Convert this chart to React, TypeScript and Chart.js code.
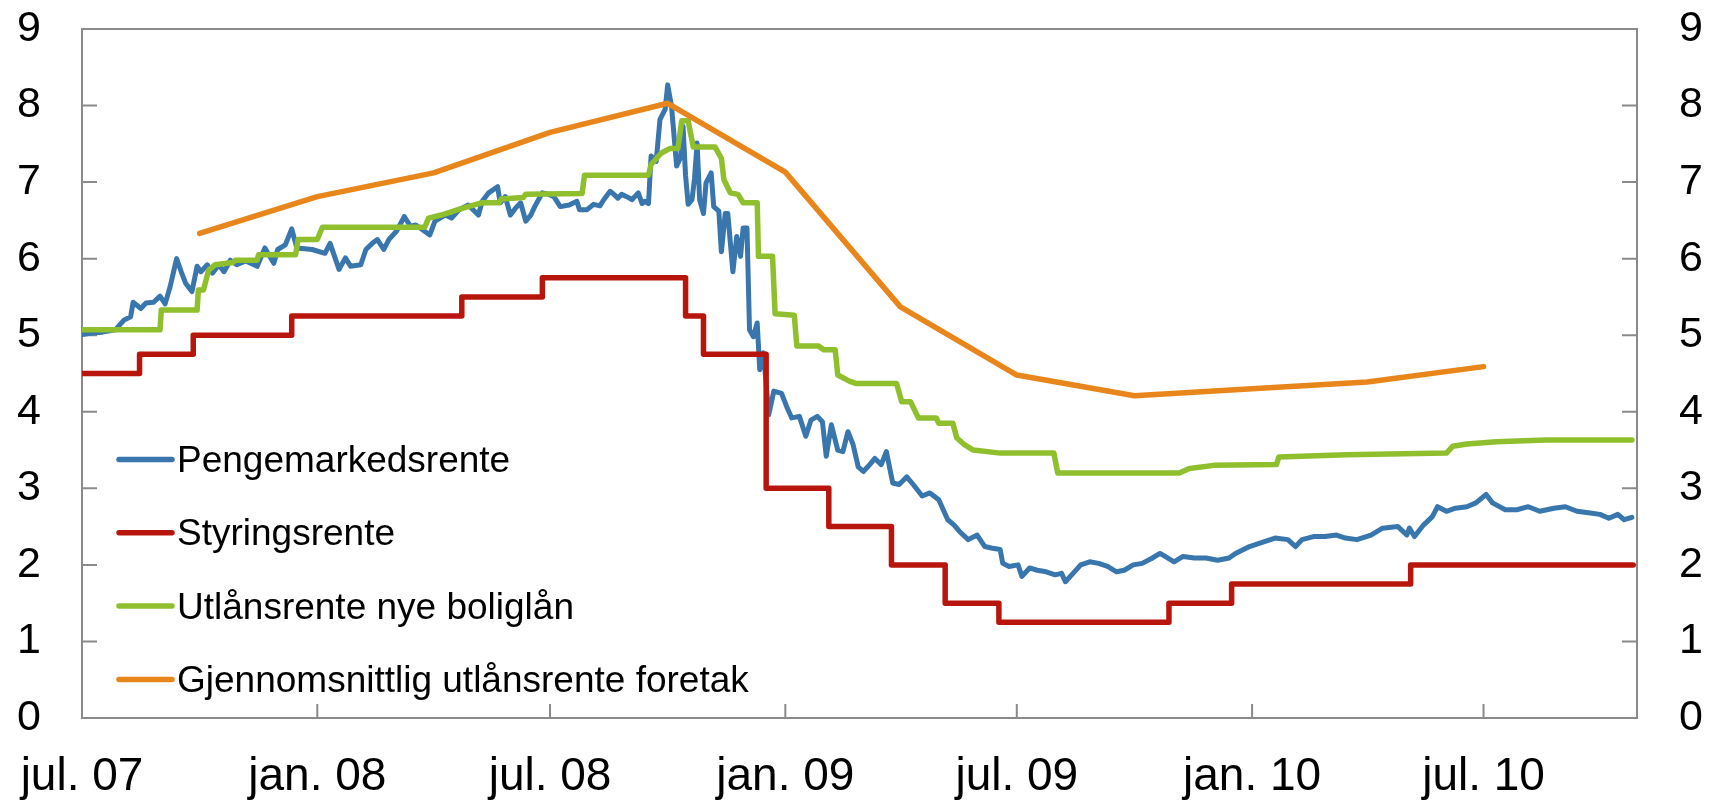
import React, { useEffect, useRef } from "react";
import { Chart, registerables } from "chart.js";

Chart.register(...registerables);

// ---------- DATA ----------
const START_DATE = "2007-07-01"; // day 0 of the x axis
const X_MAX_DATE = "2010-10-29";

const TICK_DATES = ["2007-07-01", "2008-01-01", "2008-07-01", "2009-01-01", "2009-07-01", "2010-01-01", "2010-07-01"];
const TICK_LABELS = ["jul. 07", "jan. 08", "jul. 08", "jan. 09", "jul. 09", "jan. 10", "jul. 10"];
const Y_TICKS = [0, 1, 2, 3, 4, 5, 6, 7, 8, 9];

const SERIES_LABELS = [
  "Pengemarkedsrente",
  "Styringsrente",
  "Utlånsrente nye boliglån",
  "Gjennomsnittlig utlånsrente foretak",
];

// Pengemarkedsrente: days since START_DATE and values
const pengeDays = [
  0, 8, 16, 26, 33, 38, 40, 46, 50, 56, 61, 65, 69, 74, 78, 81, 86, 90, 93, 98,
  102, 107, 111, 116, 121, 128, 137, 143, 150, 153, 159, 164, 168, 180, 190, 194, 201, 206, 210, 218,
  222, 227, 231, 236, 240, 246, 252, 257, 261, 266, 272, 276, 284, 289, 295, 302, 310, 313, 318, 325,
  327, 331, 335, 339, 343, 347, 351, 354, 360, 365, 369, 374, 381, 387, 389, 395, 400, 405, 408, 413,
  416, 419, 422, 426, 430, 435, 438, 440, 443, 445, 449, 452, 456, 458, 461, 465, 468, 470, 472, 474,
  477, 479, 481, 483, 486, 488, 492, 494, 498, 500, 503, 505, 509, 512, 515, 517, 520, 522, 525, 528,
  530, 533, 537, 541, 547, 551, 555, 561, 566, 570, 575, 579, 582, 586, 591, 595, 599, 603, 607, 611,
  616, 620, 625, 629, 634, 639, 645, 650, 657, 663, 670, 677, 682, 686, 693, 700, 706, 711, 718, 720,
  725, 732, 735, 741, 747, 754, 761, 766, 769, 775, 781, 788, 795, 802, 809, 815, 822, 829, 836, 843,
  847, 854, 861, 870, 879, 888, 897, 902, 913, 924, 933, 943, 949, 954, 963, 972, 981, 988, 997, 1008,
  1017, 1029, 1036, 1038, 1042, 1049, 1056, 1060, 1067, 1074, 1083, 1090, 1098, 1103, 1113, 1122, 1131, 1140, 1151, 1160,
  1169, 1178, 1187, 1194, 1201, 1206, 1212,
];
const pengeValues = [
  5.01, 5.03, 5.04, 5.07, 5.2, 5.24, 5.43, 5.35, 5.42, 5.43, 5.51, 5.41, 5.64, 6.0, 5.81, 5.68, 5.57, 5.9, 5.83, 5.92,
  5.81, 5.92, 5.83, 5.98, 5.92, 5.97, 5.9, 6.14, 5.94, 6.12, 6.18, 6.39, 6.14, 6.12, 6.07, 6.2, 5.86, 6.01, 5.9, 5.92,
  6.12, 6.2, 6.25, 6.12, 6.25, 6.36, 6.55, 6.42, 6.44, 6.38, 6.31, 6.49, 6.57, 6.53, 6.64, 6.7, 6.57, 6.75, 6.86, 6.94,
  6.73, 6.81, 6.57, 6.66, 6.73, 6.49, 6.57, 6.68, 6.86, 6.84, 6.81, 6.68, 6.7, 6.75, 6.64, 6.64, 6.71, 6.69, 6.77, 6.88,
  6.84, 6.79, 6.84, 6.81, 6.77, 6.86, 6.72, 6.75, 6.72, 7.34, 7.27, 7.82, 7.95, 8.27, 7.99, 7.21, 7.32, 7.73, 7.08, 6.71,
  6.77, 7.05, 7.51, 6.77, 6.59, 6.99, 7.12, 6.68, 6.62, 6.09, 6.59, 6.59, 5.83, 6.29, 6.03, 6.4, 6.4, 5.07, 4.98, 5.16,
  4.55, 4.77, 3.96, 4.27, 4.24, 4.07, 3.92, 3.94, 3.68, 3.89, 3.94, 3.87, 3.42, 3.83, 3.5, 3.48, 3.74, 3.57, 3.28, 3.22,
  3.31, 3.39, 3.31, 3.48, 3.07, 3.05, 3.15, 3.05, 2.9, 2.94, 2.85, 2.59, 2.52, 2.44, 2.33, 2.39, 2.24, 2.22, 2.2, 2.02,
  1.98, 2.0, 1.85, 1.96, 1.93, 1.91, 1.87, 1.89, 1.78, 1.89, 2.0, 2.04, 2.02, 1.98, 1.91, 1.93, 2.0, 2.02, 2.08, 2.15,
  2.11, 2.04, 2.11, 2.09, 2.09, 2.06, 2.09, 2.15, 2.24, 2.3, 2.35, 2.33, 2.24, 2.33, 2.37, 2.37, 2.39, 2.35, 2.33, 2.39,
  2.48, 2.5, 2.39, 2.48, 2.37, 2.52, 2.63, 2.76, 2.7, 2.74, 2.76, 2.81, 2.92, 2.81, 2.72, 2.72, 2.76, 2.7, 2.74, 2.76,
  2.7, 2.68, 2.66, 2.61, 2.66, 2.59, 2.62,
];

// Styringsrente: change dates and new rate
const styringDates = [
  "2007-07-01", "2007-08-15", "2007-09-26", "2007-12-12", "2008-04-23", "2008-06-25", "2008-10-15", "2008-10-29",
  "2008-12-17", "2009-02-04", "2009-03-25", "2009-05-06", "2009-06-17", "2009-10-28", "2009-12-16", "2010-05-05", "2010-10-26",
];
const styringValues = [4.5, 4.75, 5.0, 5.25, 5.5, 5.75, 5.25, 4.75, 3.0, 2.5, 2.0, 1.5, 1.25, 1.5, 1.75, 2.0, 2.0];

// Utlånsrente nye boliglån: days since START_DATE and values
const boligDays = [
  0, 61, 62, 90, 91, 95, 99, 104, 118, 120, 137, 138, 167, 169, 184, 188, 268, 271, 281, 294,
  304, 313, 326, 328, 345, 347, 391, 393, 443, 445, 453, 460, 466, 469, 474, 478, 495, 500, 502, 507,
  513, 517, 528, 529, 540, 542, 557, 559, 576, 580, 589, 591, 600, 605, 637, 641, 648, 654, 668, 670,
  681, 684, 690, 697, 718, 760, 763, 858, 866, 885, 934, 936, 989, 1067, 1072, 1083, 1106, 1145, 1212,
];
const boligValues = [
  5.07, 5.07, 5.33, 5.33, 5.59, 5.59, 5.85, 5.92, 5.95, 5.98, 5.98, 6.05, 6.05, 6.25, 6.25, 6.41, 6.41, 6.53, 6.57, 6.64,
  6.69, 6.73, 6.73, 6.78, 6.8, 6.84, 6.85, 7.09, 7.09, 7.23, 7.38, 7.44, 7.44, 7.8, 7.8, 7.46, 7.46, 7.31, 7.03, 6.86,
  6.84, 6.73, 6.73, 6.03, 6.03, 5.28, 5.26, 4.86, 4.86, 4.81, 4.81, 4.48, 4.4, 4.37, 4.37, 4.13, 4.13, 3.92, 3.92, 3.85,
  3.85, 3.66, 3.57, 3.5, 3.46, 3.46, 3.2, 3.2, 3.26, 3.3, 3.31, 3.41, 3.44, 3.46, 3.55, 3.58, 3.61, 3.63, 3.63,
];

// Gjennomsnittlig utlånsrente foretak: quarterly
const foretakDates = [
  "2007-10-01", "2008-01-01", "2008-04-01", "2008-07-01", "2008-10-01", "2009-01-01",
  "2009-04-01", "2009-07-01", "2009-10-01", "2010-01-01", "2010-04-01", "2010-07-01",
];
const foretakValues = [6.33, 6.81, 7.12, 7.65, 8.03, 7.13, 5.37, 4.48, 4.21, 4.3, 4.39, 4.59];

// ---------- STYLE ----------
const COLORS = ["#3876AD", "#B8160C", "#90BF2E", "#E9861B"];
const AXIS_COLOR = "#8a8a8a";
const FONT_FAMILY = "'Liberation Sans', Arial, sans-serif";

const DAY_MS = 86400000;
const toDay = (iso: string) => {
  const [y, m, d] = iso.split("-").map(Number);
  const [y0, m0, d0] = START_DATE.split("-").map(Number);
  return Math.round((Date.UTC(y, m - 1, d) - Date.UTC(y0, m0 - 1, d0)) / DAY_MS);
};

const framePlugin = {
  id: "frameTicks",
  beforeDatasetsDraw(chart: any) {
    const { ctx, chartArea: a, scales } = chart;
    ctx.save();
    ctx.strokeStyle = AXIS_COLOR;
    ctx.lineWidth = 2;
    ctx.beginPath();
    ctx.rect(a.left, a.top, a.right - a.left, a.bottom - a.top);
    scales.x.ticks.forEach((t: any) => {
      const px = scales.x.getPixelForValue(t.value);
      ctx.moveTo(px, a.bottom);
      ctx.lineTo(px, a.bottom - 14);
    });
    scales.y.ticks.forEach((t: any) => {
      const py = scales.y.getPixelForValue(t.value);
      ctx.moveTo(a.left, py);
      ctx.lineTo(a.left + 15, py);
      ctx.moveTo(a.right, py);
      ctx.lineTo(a.right - 15, py);
    });
    ctx.stroke();
    ctx.restore();
  },
};

const legendPlugin = {
  id: "insideLegend",
  afterDraw(chart: any) {
    const { ctx, chartArea: a } = chart;
    ctx.save();
    ctx.font = `37px ${FONT_FAMILY}`;
    ctx.textBaseline = "alphabetic";
    ctx.textAlign = "left";
    SERIES_LABELS.forEach((label, i) => {
      const yLine = a.top + 430.5 + i * 73.3;
      ctx.strokeStyle = COLORS[i];
      ctx.lineWidth = 5.5;
      ctx.lineCap = "round";
      ctx.beginPath();
      ctx.moveTo(a.left + 37, yLine);
      ctx.lineTo(a.left + 90, yLine);
      ctx.stroke();
      ctx.fillStyle = "#000";
      ctx.fillText(label, a.left + 95, yLine + 12.5);
    });
    ctx.restore();
  },
};

const noPad = (scale: any) => {
  scale.paddingTop = 0;
  scale.paddingBottom = 0;
  scale.paddingLeft = 0;
  scale.paddingRight = 0;
};

export default function App() {
  const canvasRef = useRef<HTMLCanvasElement | null>(null);

  useEffect(() => {
    document.body.style.margin = "0";
    const canvas = canvasRef.current;
    if (!canvas) return;

    const penge = pengeDays.map((d, i) => ({ x: d, y: pengeValues[i] }));
    const styring = styringDates.map((d, i) => ({ x: toDay(d), y: styringValues[i] }));
    const bolig = boligDays.map((d, i) => ({ x: d, y: boligValues[i] }));
    const foretak = foretakDates.map((d, i) => ({ x: toDay(d), y: foretakValues[i] }));
    const tickDays = TICK_DATES.map(toDay);

    const common = {
      pointRadius: 0,
      borderWidth: 5.5,
      borderCapStyle: "round" as const,
      borderJoinStyle: "round" as const,
      fill: false,
      tension: 0,
    };

    const chart = new Chart(canvas, {
      type: "line",
      data: {
        datasets: [
          { ...common, label: SERIES_LABELS[0], data: penge, borderColor: COLORS[0], order: 4, borderWidth: 5 },
          { ...common, label: SERIES_LABELS[1], data: styring, borderColor: COLORS[1], order: 3, stepped: "before" as const },
          { ...common, label: SERIES_LABELS[2], data: bolig, borderColor: COLORS[2], order: 2 },
          { ...common, label: SERIES_LABELS[3], data: foretak, borderColor: COLORS[3], order: 1 },
        ],
      },
      options: {
        animation: false,
        responsive: true,
        maintainAspectRatio: false,
        layout: { padding: { top: 29, left: 0, right: 0, bottom: 0 } },
        plugins: { legend: { display: false }, tooltip: { enabled: false } },
        scales: {
          x: {
            type: "linear",
            min: 0,
            max: toDay(X_MAX_DATE),
            grid: { display: false, drawTicks: false },
            border: { display: false },
            afterBuildTicks: (scale: any) => {
              scale.ticks = tickDays.map((v) => ({ value: v }));
            },
            afterFit: (scale: any) => {
              scale.height = 84;
              noPad(scale);
            },
            ticks: {
              autoSkip: false,
              maxRotation: 0,
              minRotation: 0,
              padding: 32,
              color: "#000",
              font: { family: FONT_FAMILY, size: 46 },
              callback: (value: any) => {
                const idx = tickDays.indexOf(Number(value));
                return idx >= 0 ? TICK_LABELS[idx] : "";
              },
            },
          },
          y: {
            position: "left",
            min: 0,
            max: 9,
            grid: { display: false, drawTicks: false },
            border: { display: false },
            afterBuildTicks: (scale: any) => {
              scale.ticks = Y_TICKS.map((v) => ({ value: v }));
            },
            afterFit: (scale: any) => {
              scale.width = 82;
              noPad(scale);
            },
            ticks: {
              padding: 41,
              color: "#000",
              font: { family: FONT_FAMILY, size: 43 },
            },
          },
          y2: {
            position: "right",
            min: 0,
            max: 9,
            grid: { display: false, drawTicks: false },
            border: { display: false },
            afterBuildTicks: (scale: any) => {
              scale.ticks = Y_TICKS.map((v) => ({ value: v }));
            },
            afterFit: (scale: any) => {
              scale.width = 72;
              noPad(scale);
            },
            ticks: {
              padding: 42,
              color: "#000",
              font: { family: FONT_FAMILY, size: 43 },
            },
          },
        },
      },
      plugins: [framePlugin, legendPlugin],
    } as any);

    return () => chart.destroy();
  }, []);

  return (
    <div style={{ position: "fixed", left: 0, top: 0, width: "1709px", height: "802px" }}>
      <canvas ref={canvasRef} />
    </div>
  );
}
